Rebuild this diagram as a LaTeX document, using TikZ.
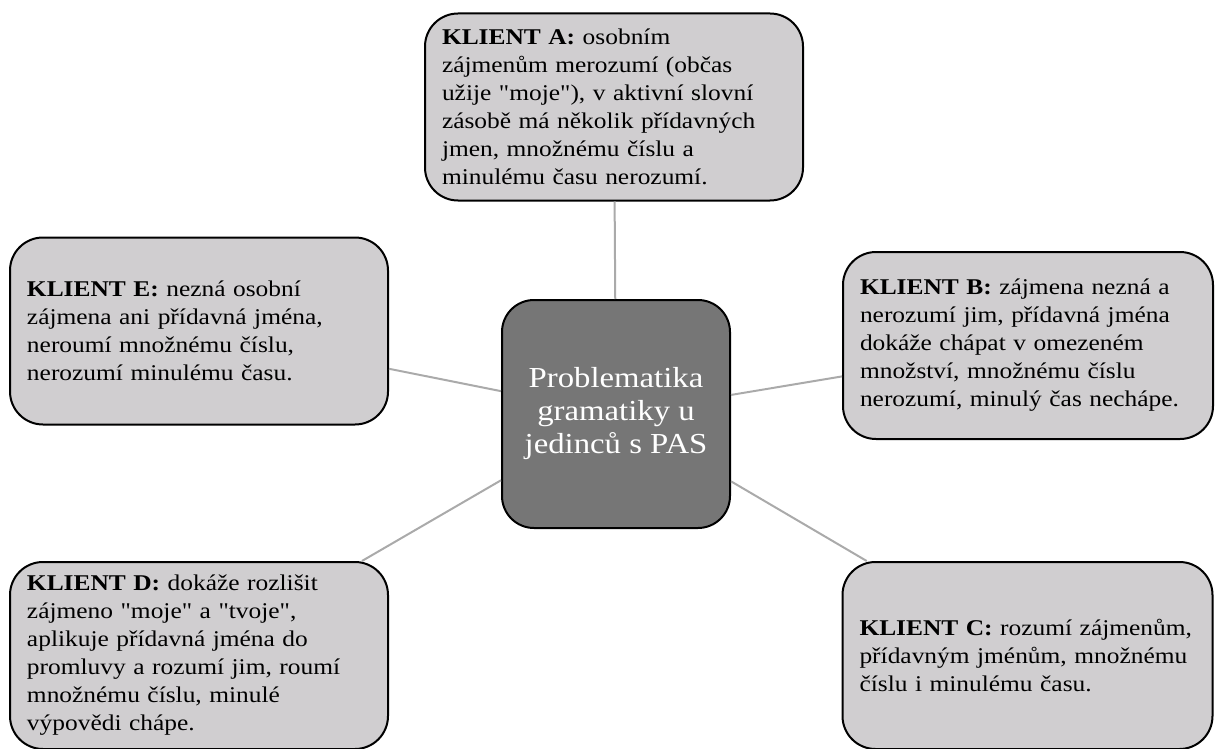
\documentclass[tikz,border=0pt]{standalone}
\usepackage{fontspec}
\setmainfont{Liberation Serif}[Ligatures=TeXOff, FakeStretch=1.13]
\definecolor{boxgray}{RGB}{208,206,208}
\definecolor{midgray}{RGB}{118,118,118}
\definecolor{linegray}{RGB}{170,170,170}
\begin{document}
\begin{tikzpicture}[x=1pt, y=-1pt,
                    klient/.style={draw, line width=2pt, fill=boxgray, rounded corners=33pt,
                        align=left, inner xsep=17pt, text width=344pt,
                        minimum width=378pt, minimum height=187pt,
                        font=\fontsize{22.5}{28}\selectfont},
                    klientuzky/.style={klient, text width=336pt, minimum width=370pt},
                    stred/.style={draw, line width=2pt, fill=midgray, rounded corners=32pt,
                        align=center, text=white, minimum width=228pt, minimum height=228pt,
                        font=\fontsize{29}{33}\selectfont},
                    spoj/.style={draw=linegray, line width=2pt}]
                    \useasboundingbox (0,0) rectangle (1216,749);

                    \node[stred] (pas) at (616,414) {Problematika\\gramatiky u\\jedinců s PAS};

                    \node[klient] (klA) at (614,107) {\textbf{KLIENT A:} osobním\\zájmenům merozumí (občas\\užije "moje"), v aktivní slovní\\zásobě má několik přídavných\\jmen, množnému číslu a\\minulému času nerozumí.};
                    \node[klientuzky] (klB) at (1028,345.5) {\textbf{KLIENT B:} zájmena nezná a\\nerozumí jim, přídavná jména\\dokáže chápat v omezeném\\množství, množnému číslu\\nerozumí, minulý čas nechápe.};
                    \node[klientuzky] (klC) at (1027.5,655.5) {\textbf{KLIENT C:} rozumí zájmenům,\\přídavným jménům, množnému\\číslu i minulému času.};
                    \node[klient] (klD) at (199,655.5) {\textbf{KLIENT D:} dokáže rozlišit\\zájmeno "moje" a "tvoje",\\aplikuje přídavná jména do\\promluvy a rozumí jim, roumí\\množnému číslu, minulé\\výpovědi chápe.};
                    \node[klient] (klE) at (199,331) {\textbf{KLIENT E:} nezná osobní\\zájmena ani přídavná jména,\\neroumí množnému číslu,\\nerozumí minulému času.};

                    \draw[spoj] (pas) -- (klA);
                    \draw[spoj] (pas) -- (klB);
                    \draw[spoj] (pas) -- (klC);
                    \draw[spoj] (pas) -- (klD);
                    \draw[spoj] (pas) -- (klE);
                \end{tikzpicture}
\end{document}
